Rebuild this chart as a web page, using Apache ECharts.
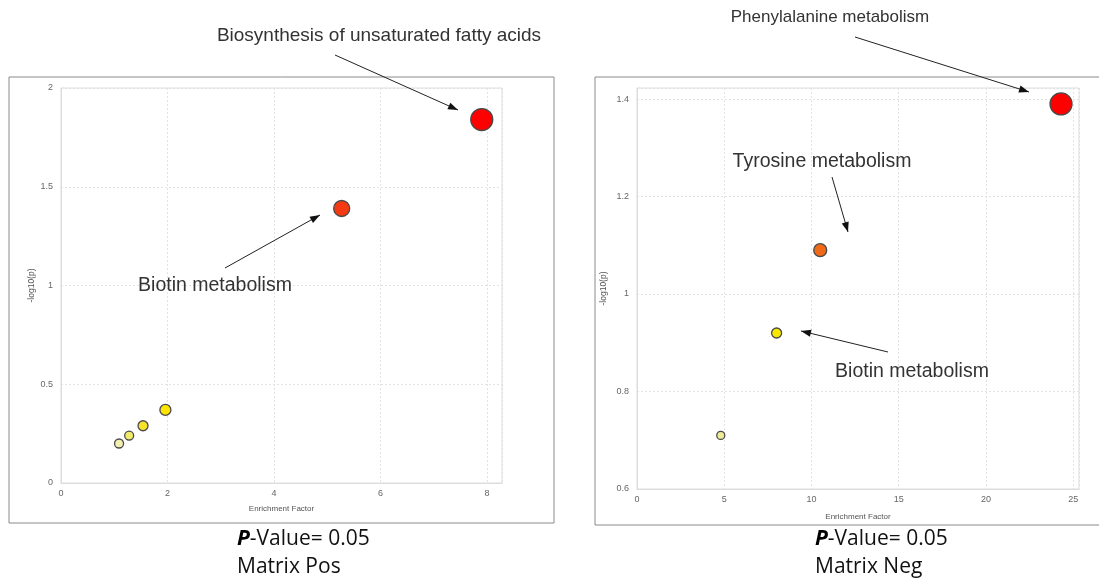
<!DOCTYPE html>
<html>
<head>
<meta charset="utf-8">
<script src="https://cdn.jsdelivr.net/npm/echarts@6/dist/echarts.min.js"></script>
<style>
html,body{margin:0;padding:0;background:#fff;}
#c{width:1099px;height:581px;}
</style>
</head>
<body>
<div id="c"></div>
<script>
// ---- data ----
const posX = [1.09, 1.28, 1.54, 1.96, 5.27, 7.9];
const posY = [0.2, 0.24, 0.29, 0.37, 1.39, 1.84];
const negX = [4.8, 8.0, 10.5, 24.3];
const negY = [0.71, 0.92, 1.09, 1.39];
const posXTicks = [0, 2, 4, 6, 8];
const posYTicks = [0, 0.5, 1, 1.5, 2];
const negXTicks = [0, 5, 10, 15, 20, 25];
const negYTicks = [0.6, 0.8, 1, 1.2, 1.4];

// ---- styles ----
const posSize = [9, 9, 10, 11, 16, 22];
const posColor = ['#f2efb0', '#f2ea6a', '#f6e22a', '#ffe400', '#f53a12', '#ff0000'];
const negSize = [8, 10, 13, 22];
const negColor = ['#efeb98', '#fbe800', '#f06a18', '#ff0000'];

const FONT = '"Liberation Sans", Arial, sans-serif';

function pts(xs, ys, sizes, colors) {
  return xs.map((x, i) => ({
    value: [x, ys[i]],
    symbolSize: sizes[i],
    itemStyle: { color: colors[i], borderColor: '#4a4a4a', borderWidth: 1.3, opacity: 1 }
  }));
}

function xAxisCfg(gridIndex, max, interval, name, gap) {
  return {
    gridIndex, type: 'value', min: 0, max, interval,
    name, nameLocation: 'middle', nameGap: gap,
    nameTextStyle: { fontSize: 8, color: '#555', fontFamily: FONT },
    axisLine: { show: true, lineStyle: { color: '#ddd' } },
    axisTick: { show: false },
    axisLabel: { fontSize: 9, color: '#666', fontFamily: FONT, margin: 6, showMaxLabel: false },
    splitLine: { show: true, lineStyle: { color: '#e2e2e2', type: [2, 2] } }
  };
}
function yAxisCfg(gridIndex, min, max, interval, gap) {
  return {
    gridIndex, type: 'value', min, max, interval,
    name: '-log10(p)', nameLocation: 'middle', nameGap: gap, nameRotate: 90,
    nameTextStyle: { fontSize: 8.5, color: '#555', fontFamily: FONT },
    axisLine: { show: true, lineStyle: { color: '#ddd' } },
    axisTick: { show: false },
    axisLabel: {
      fontSize: 9, color: '#666', fontFamily: FONT, margin: 8,
      formatter: v => {
        const ticks = gridIndex === 0 ? posYTicks : negYTicks;
        return ticks.some(t => Math.abs(t - v) < 1e-6) ? String(+v.toFixed(2)) : '';
      }
    },
    splitLine: { show: true, lineStyle: { color: '#e2e2e2', type: [2, 2] } }
  };
}

// ---- annotation helpers ----
const graphics = [];
function box(x, y, w, h) {
  graphics.push({ type: 'rect', z: 100, shape: { x, y, width: w, height: h },
    style: { fill: 'none', stroke: '#8a8a8a', lineWidth: 1 }, silent: true });
}
function arrow(x1, y1, x2, y2) {
  graphics.push({ type: 'line', z: 100, shape: { x1, y1, x2, y2 },
    style: { stroke: '#222', lineWidth: 1 }, silent: true });
  const a = Math.atan2(y2 - y1, x2 - x1), L = 10, W = 3.6;
  const bx = x2 - L * Math.cos(a), by = y2 - L * Math.sin(a);
  const nx = -Math.sin(a), ny = Math.cos(a);
  graphics.push({ type: 'polygon', z: 100, shape: { points: [[x2, y2], [bx + nx * W, by + ny * W], [bx - nx * W, by - ny * W]] },
    style: { fill: '#111' }, silent: true });
}
function label(txt, cx, cy, size) {
  graphics.push({ type: 'text', z: 100, x: cx, y: cy,
    style: { text: txt, font: size + 'px ' + FONT, fill: '#333', align: 'center', verticalAlign: 'middle' }, silent: true });
}
function caption(cx, y, second) {
  graphics.push({ type: 'text', z: 100, x: cx, y: y,
    style: {
      text: '{p|P}{n|-Value= 0.05}\n{n|' + second + '}',
      align: 'left', verticalAlign: 'top', lineHeight: 28,
      rich: {
        p: { fontSize: 21, fontWeight: 'bold', fontStyle: 'italic', fontFamily: '"Open Sans", sans-serif', fill: '#000', lineHeight: 28 },
        n: { fontSize: 21, fontFamily: '"Open Sans", sans-serif', fill: '#111', lineHeight: 28 }
      }
    }, silent: true });
}

box(9, 77, 545, 446);
box(595, 77, 520, 448);

label('Biosynthesis of unsaturated fatty acids', 379, 36, 19);
arrow(335, 55, 458, 110);
label('Biotin metabolism', 215, 286, 19.5);
arrow(225, 268, 320, 215);

label('Phenylalanine metabolism', 830, 17, 17);
arrow(855, 37, 1029, 92);
label('Tyrosine metabolism', 822, 162, 19.5);
arrow(832, 177, 848, 232);
label('Biotin metabolism', 912, 372, 19.5);
arrow(888, 352, 801, 331);

caption(237, 525, 'Matrix Pos');
caption(815, 525, 'Matrix Neg');

const chart = echarts.init(document.getElementById('c'));
chart.setOption({
  animation: false,
  backgroundColor: '#fff',
  grid: [
    { left: 61, top: 88, width: 441, height: 395, show: true, borderColor: '#ddd', borderWidth: 1, containLabel: false },
    { left: 637, top: 88, width: 442, height: 401, show: true, borderColor: '#ddd', borderWidth: 1, containLabel: false }
  ],
  xAxis: [
    xAxisCfg(0, 8.28, 2, 'Enrichment Factor', 22),
    xAxisCfg(1, 25.33, 5, 'Enrichment Factor', 24)
  ],
  yAxis: [
    yAxisCfg(0, 0, 2, 0.5, 25),
    yAxisCfg(1, 0.6, 1.4226, 0.2, 29)
  ],
  series: [
    { type: 'scatter', xAxisIndex: 0, yAxisIndex: 0, data: pts(posX, posY, posSize, posColor), z: 5 },
    { type: 'scatter', xAxisIndex: 1, yAxisIndex: 1, data: pts(negX, negY, negSize, negColor), z: 5 }
  ],
  graphic: graphics
});
</script>
</body>
</html>
